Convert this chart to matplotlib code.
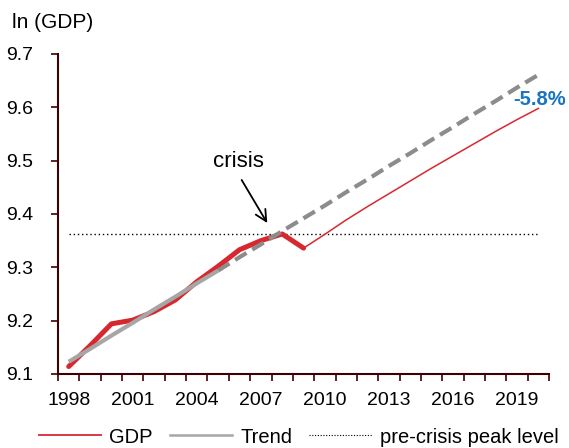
import matplotlib
matplotlib.use("Agg")
import matplotlib.pyplot as plt
from matplotlib.lines import Line2D

plt.rcParams['font.family'] = ['Liberation Sans', 'DejaVu Sans']

years = list(range(1998, 2021))
gdp = [9.114, 9.153, 9.194, 9.201, 9.217, 9.239, 9.273, 9.302, 9.333, 9.350,
       9.3625, 9.336, 9.362, 9.389, 9.414, 9.438, 9.462, 9.486, 9.509, 9.532,
       9.555, 9.577, 9.598]
trend = [9.123, 9.147, 9.172, 9.196, 9.221, 9.245, 9.270, 9.294, 9.319, 9.343,
         9.368, 9.392, 9.416, 9.441, 9.465, 9.490, 9.514, 9.539, 9.563, 9.588,
         9.612, 9.637, 9.661]
peak_level = 9.3625
crisis_year = 2009
trend_split_year = 2005
gap_label = "-5.8%"
x_tick_labels = [1998, 2001, 2004, 2007, 2010, 2013, 2016, 2019]
y_ticks = [9.1, 9.2, 9.3, 9.4, 9.5, 9.6, 9.7]

RED = "#d7282f"
GRAY = "#8c8c8c"
GRAY_L = "#a6a6a6"
AXC = "#3c0000"

fig = plt.figure(figsize=(5.69, 4.48), dpi=100)
ax = fig.add_axes([0.102, 0.1652, 0.863, 0.7143])

ic = years.index(crisis_year)
it = years.index(trend_split_year)

# trend: solid then dashed projection
ax.plot(years[:it + 1], trend[:it + 1], color=GRAY_L, lw=3.0, solid_capstyle='butt', zorder=3)
ax.plot(years[it:], trend[it:], color=GRAY, lw=3.0, dashes=(3.2, 1.6), zorder=3)
# GDP thick (actual) then thin (projection)
ax.plot(years[:ic + 1], gdp[:ic + 1], color=RED, lw=3.6, solid_capstyle='round',
        solid_joinstyle='round', zorder=2)
ax.plot(years[ic:], gdp[ic:], color=RED, lw=1.1, zorder=2)
# pre-crisis peak
ax.plot([years[0], years[-1]], [peak_level, peak_level], color='black', lw=1.0,
        linestyle=(0, (1, 2)), zorder=1)

ax.annotate("", xy=(2007.3, 9.383), xytext=(2006.1, 9.4638),
            arrowprops=dict(arrowstyle='->', color='black', lw=1.3,
                            mutation_scale=20, shrinkA=0, shrinkB=0))
ax.text(2005.96, 9.4975, "crisis", ha='center', va='center', fontsize=16)

ax.text(2020.05, 9.614, gap_label, color="#1a74c2", fontsize=14.5, fontweight='bold',
        ha='center', va='center')

ax.set_xlim(1997.5, 2020.5)
ax.set_ylim(9.1, 9.7)
ax.set_yticks(y_ticks)
ax.set_yticklabels([f"{v:.1f}" for v in y_ticks], fontsize=14)
ax.set_xticks(x_tick_labels)
ax.set_xticklabels([str(v) for v in x_tick_labels], fontsize=14)
ax.set_xticks([y - 0.5 for y in years] + [years[-1] + 0.5], minor=True)
ax.tick_params(axis='x', which='major', length=0, pad=13)
ax.tick_params(axis='x', which='minor', length=5, width=1.2, color=AXC, direction='out')
ax.tick_params(axis='y', length=5, width=1.2, color=AXC, direction='out', pad=13)

for s in ['top', 'right']:
    ax.spines[s].set_visible(False)
for s in ['left', 'bottom']:
    ax.spines[s].set_color(AXC)
    ax.spines[s].set_linewidth(1.5)

fig.text(12 / 569, 1 - 22 / 448, "ln (GDP)", fontsize=15, ha='left', va='center')

handles = [Line2D([], [], color=RED, lw=1.3),
           Line2D([], [], color=GRAY_L, lw=1.8),
           Line2D([], [], color='black', lw=0.8, linestyle=(0, (1, 1.5)))]
fig.legend(handles, ["GDP", "Trend", "pre-crisis peak level"], loc='center',
           bbox_to_anchor=(0.525, 1 - 437 / 448), ncol=3, frameon=False, fontsize=14.5,
           handlelength=3.1, columnspacing=0.85, handletextpad=0.4)

fig.savefig("out.png", dpi=100)
